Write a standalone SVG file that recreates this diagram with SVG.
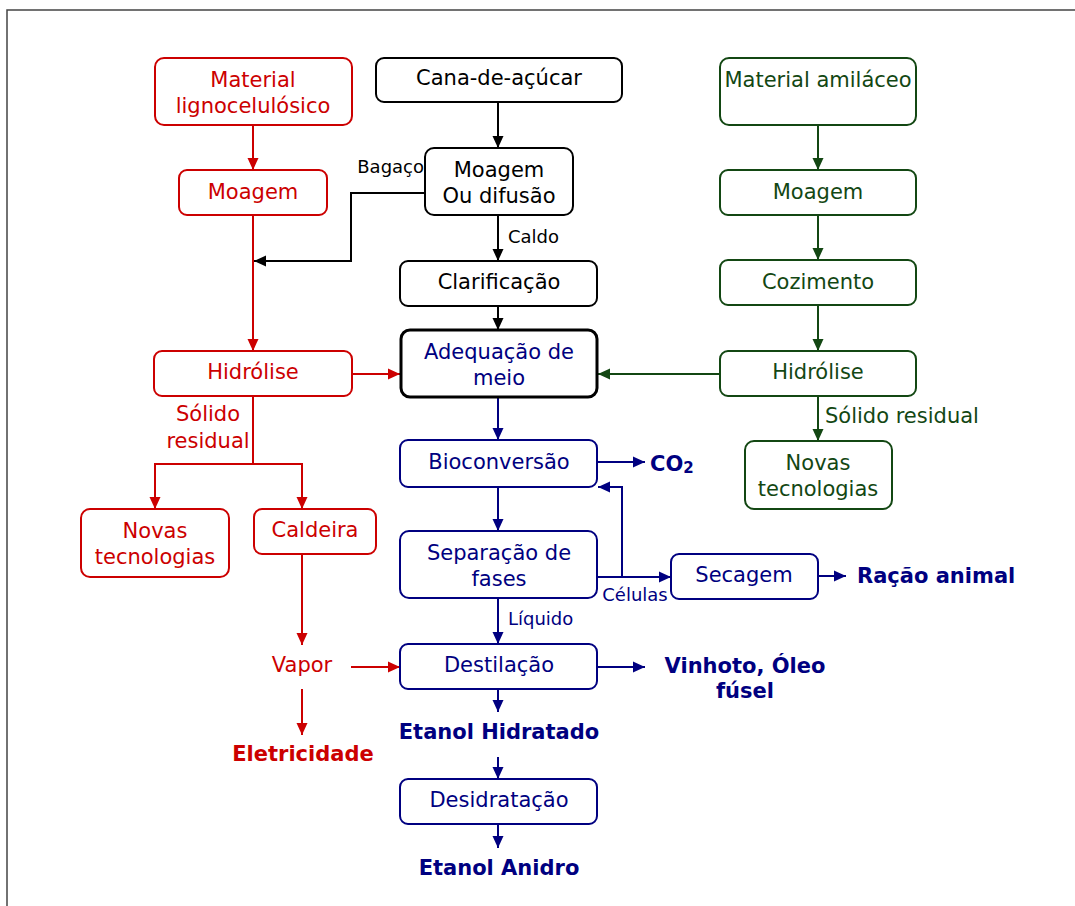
<svg xmlns="http://www.w3.org/2000/svg" width="1075" height="906" viewBox="0 0 1075 906">
<defs>
<style>
text{font-family:"DejaVu Sans",Verdana,sans-serif;font-size:21px;text-anchor:middle;dominant-baseline:central}
.b{font-weight:bold;font-size:21px}
.s{font-size:18px}
.r{fill:#cc0000}.k{fill:#000}.n{fill:#000080}.g{fill:#134713}
rect{fill:#fff;stroke-width:2}
.rr{stroke:#cc0000}.rk{stroke:#000}.rn{stroke:#000080}.rg{stroke:#134713}
.c{fill:none;stroke-width:2}
</style>
<marker id="ar" markerUnits="userSpaceOnUse" markerWidth="13" markerHeight="13" viewBox="0 0 13 13" refX="12" refY="6.5" orient="auto"><path d="M0,1 L12,6.5 L0,12 z" fill="#cc0000"/></marker>
<marker id="ak" markerUnits="userSpaceOnUse" markerWidth="13" markerHeight="13" viewBox="0 0 13 13" refX="12" refY="6.5" orient="auto"><path d="M0,1 L12,6.5 L0,12 z" fill="#000"/></marker>
<marker id="an" markerUnits="userSpaceOnUse" markerWidth="13" markerHeight="13" viewBox="0 0 13 13" refX="12" refY="6.5" orient="auto"><path d="M0,1 L12,6.5 L0,12 z" fill="#000080"/></marker>
<marker id="ag" markerUnits="userSpaceOnUse" markerWidth="13" markerHeight="13" viewBox="0 0 13 13" refX="12" refY="6.5" orient="auto"><path d="M0,1 L12,6.5 L0,12 z" fill="#134713"/></marker>
</defs>
<rect x="0" y="0" width="1075" height="906" style="fill:#fff;stroke:none"/>
<path d="M7,906 V10 H1075" fill="none" stroke="#444" stroke-width="1.5"/>

<g id="connectors">
<g>
<path class="c" stroke="#cc0000" d="M253,125 V170" marker-end="url(#ar)"/>
<path class="c" stroke="#cc0000" d="M253,215 V351" marker-end="url(#ar)"/>
<path class="c" stroke="#cc0000" d="M352,374 H400" marker-end="url(#ar)"/>
<path class="c" stroke="#cc0000" d="M253,396 V464 H155 V509" marker-end="url(#ar)"/>
<path class="c" stroke="#cc0000" d="M253,464 H302 V509" marker-end="url(#ar)"/>
<path class="c" stroke="#cc0000" d="M302,554 V645" marker-end="url(#ar)"/>
<path class="c" stroke="#cc0000" d="M351,667 H400" marker-end="url(#ar)"/>
<path class="c" stroke="#cc0000" d="M302,689 V735" marker-end="url(#ar)"/>
</g>
<g>
<path class="c" stroke="#000" d="M498,102 V148" marker-end="url(#ak)"/>
<path class="c" stroke="#000" d="M498,215 V261" marker-end="url(#ak)"/>
<path class="c" stroke="#000" d="M425,193 H351 V261 H254" marker-end="url(#ak)"/>
<path class="c" stroke="#000" d="M498,306 V330" marker-end="url(#ak)"/>
</g>
<g>
<path class="c" stroke="#134713" d="M818,125 V170" marker-end="url(#ag)"/>
<path class="c" stroke="#134713" d="M818,215 V260" marker-end="url(#ag)"/>
<path class="c" stroke="#134713" d="M818,305 V351" marker-end="url(#ag)"/>
<path class="c" stroke="#134713" d="M818,396 V441" marker-end="url(#ag)"/>
<path class="c" stroke="#134713" d="M720,374 H598" marker-end="url(#ag)"/>
</g>
<g>
<path class="c" stroke="#000080" d="M498,397 V440" marker-end="url(#an)"/>
<path class="c" stroke="#000080" d="M597,462 H645" marker-end="url(#an)"/>
<path class="c" stroke="#000080" d="M498,487 V531" marker-end="url(#an)"/>
<path class="c" stroke="#000080" d="M597,577 H671" marker-end="url(#an)"/>
<path class="c" stroke="#000080" d="M622,577 V487 H598" marker-end="url(#an)"/>
<path class="c" stroke="#000080" d="M818,576 H846" marker-end="url(#an)"/>
<path class="c" stroke="#000080" d="M498,598 V644" marker-end="url(#an)"/>
<path class="c" stroke="#000080" d="M597,667 H645" marker-end="url(#an)"/>
<path class="c" stroke="#000080" d="M498,689 V712" marker-end="url(#an)"/>
<path class="c" stroke="#000080" d="M498,757 V779" marker-end="url(#an)"/>
<path class="c" stroke="#000080" d="M498,824 V848" marker-end="url(#an)"/>
</g>
</g>

<g id="labels">
<text class="s k" x="424" y="166" style="text-anchor:end">Bagaço</text>
<text class="s k" x="508" y="236" style="text-anchor:start">Caldo</text>
<text class="r" x="208" y="414">Sólido</text>
<text class="r" x="208" y="441">residual</text>
<text class="g" x="825" y="416" style="text-anchor:start">Sólido residual</text>
<text class="s n" x="508" y="618" style="text-anchor:start">Líquido</text>
<text class="s n" x="635" y="594">Células</text>
<text class="b n" x="650" y="464" style="text-anchor:start">CO<tspan font-size="15" dy="4">2</tspan></text>
<text class="b n" x="857" y="576" style="text-anchor:start">Ração animal</text>
<text class="b n" x="745" y="666">Vinhoto, Óleo</text>
<text class="b n" x="745" y="691">fúsel</text>
<text class="b n" x="499" y="732">Etanol Hidratado</text>
<text class="b n" x="499" y="868">Etanol Anidro</text>
<text class="r" x="302" y="665">Vapor</text>
<text class="b r" x="303" y="754">Eletricidade</text>
</g>

<g id="n-ligno"><rect class="rr" x="155" y="58" width="197" height="67" rx="9"/><text class="r" x="253" y="80">Material</text><text class="r" x="253" y="106">lignocelulósico</text></g>
<g id="n-moagem-r"><rect class="rr" x="179" y="170" width="148" height="45" rx="8"/><text class="r" x="253" y="192">Moagem</text></g>
<g id="n-hidrolise-r"><rect class="rr" x="154" y="351" width="198" height="45" rx="8"/><text class="r" x="253" y="372">Hidrólise</text></g>
<g id="n-novas-r"><rect class="rr" x="81" y="509" width="148" height="68" rx="9"/><text class="r" x="155" y="531">Novas</text><text class="r" x="155" y="557">tecnologias</text></g>
<g id="n-caldeira"><rect class="rr" x="254" y="509" width="122" height="45" rx="8"/><text class="r" x="315" y="530">Caldeira</text></g>

<g id="n-cana"><rect class="rk" x="376" y="58" width="246" height="44" rx="8"/><text class="k" x="499" y="78">Cana-de-açúcar</text></g>
<g id="n-moagem-k"><rect class="rk" x="425" y="148" width="148" height="67" rx="9"/><text class="k" x="499" y="170">Moagem</text><text class="k" x="499" y="196">Ou difusão</text></g>
<g id="n-clarif"><rect class="rk" x="400" y="261" width="197" height="45" rx="8"/><text class="k" x="499" y="282">Clarificação</text></g>
<g id="n-adeq"><rect class="rk" x="401" y="330" width="196" height="67" rx="9" style="stroke-width:3"/><text class="n" x="499" y="352">Adequação de</text><text class="n" x="499" y="378">meio</text></g>

<g id="n-biocon"><rect class="rn" x="400" y="440" width="197" height="47" rx="8"/><text class="n" x="499" y="462">Bioconversão</text></g>
<g id="n-separ"><rect class="rn" x="400" y="531" width="197" height="67" rx="9"/><text class="n" x="499" y="553">Separação de</text><text class="n" x="499" y="579">fases</text></g>
<g id="n-secagem"><rect class="rn" x="671" y="554" width="147" height="45" rx="8"/><text class="n" x="744" y="575">Secagem</text></g>
<g id="n-destil"><rect class="rn" x="400" y="644" width="197" height="45" rx="8"/><text class="n" x="499" y="665">Destilação</text></g>
<g id="n-desid"><rect class="rn" x="400" y="779" width="197" height="45" rx="8"/><text class="n" x="499" y="800">Desidratação</text></g>

<g id="n-amil"><rect class="rg" x="720" y="58" width="196" height="67" rx="9"/><text class="g" x="818" y="80">Material amiláceo</text></g>
<g id="n-moagem-g"><rect class="rg" x="720" y="170" width="196" height="45" rx="8"/><text class="g" x="818" y="192">Moagem</text></g>
<g id="n-cozim"><rect class="rg" x="720" y="260" width="196" height="45" rx="8"/><text class="g" x="818" y="282">Cozimento</text></g>
<g id="n-hidrolise-g"><rect class="rg" x="720" y="351" width="196" height="45" rx="8"/><text class="g" x="818" y="372">Hidrólise</text></g>
<g id="n-novas-g"><rect class="rg" x="745" y="441" width="147" height="68" rx="9"/><text class="g" x="818" y="463">Novas</text><text class="g" x="818" y="489">tecnologias</text></g>
</svg>
